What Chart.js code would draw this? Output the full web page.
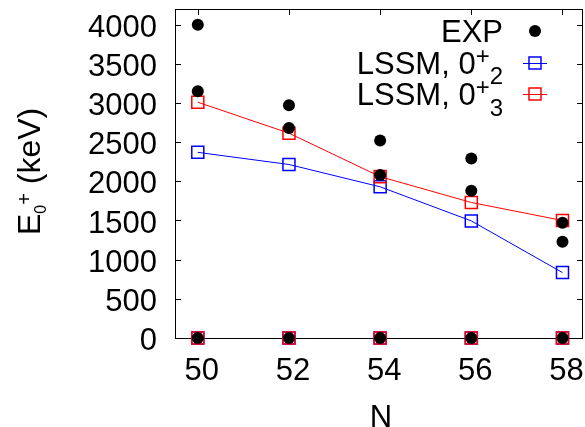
<!DOCTYPE html>
<html>
<head>
<meta charset="utf-8">
<script src="https://cdn.jsdelivr.net/npm/chart.js@4/dist/chart.umd.min.js"></script>
<style>
  html, body { margin: 0; padding: 0; background: #fff; }
  canvas { display: block; }
</style>
</head>
<body>
<canvas id="chart" width="585" height="427"></canvas>
<script>
// neutron number
const N = [50, 52, 54, 56, 58];
// experiment: ground states and two excited 0+ levels per nucleus
const expGround = [0, 0, 0, 0, 0];
const expLow = [3150, 2680, 2080, 1880, 1230];
const expHigh = [4000, 2970, 2520, 2290, 1470];
// shell model
const lssm02 = [2370, 2215, 1930, 1495, 835];
const lssm03 = [3010, 2615, 2060, 1730, 1500];
const lssmGround = [0, 0, 0, 0, 0];

const xTicks = [50, 52, 54, 56, 58];
const yTicks = [0, 500, 1000, 1500, 2000, 2500, 3000, 3500, 4000];

const FONT = '"Liberation Sans", Arial, sans-serif';
const FS = 31;

const pts = (ys) => N.map((n, i) => ({ x: n, y: ys[i] }));
const expPoints = [].concat(pts(expGround), pts(expLow), pts(expHigh));

// text pieces [text, size, dy] drawn one after another
function richWidth(ctx, parts) {
  let w = 0;
  for (const p of parts) {
    ctx.font = p[1] + 'px ' + FONT;
    w += ctx.measureText(p[0]).width;
  }
  return w;
}
function richText(ctx, parts, x, y) {
  for (const p of parts) {
    ctx.font = p[1] + 'px ' + FONT;
    ctx.fillText(p[0], x, y + (p[2] || 0));
    x += ctx.measureText(p[0]).width;
  }
}

// box round the plot with inward ticks on all four sides, as 1px filled bars
function drawFrame(chart) {
  const ctx = chart.ctx;
  const a = chart.chartArea;
  const xs = chart.scales.x, ys = chart.scales.y;
  const L = Math.round(a.left), R = Math.round(a.right) - 1;
  const T = Math.round(a.top), B = Math.round(a.bottom);
  const tl = 6;
  ctx.save();
  ctx.globalAlpha = 1;
  ctx.fillStyle = '#000';
  ctx.fillRect(L, T, R - L + 1, 1);
  ctx.fillRect(L, B, R - L + 1, 1);
  ctx.fillRect(L, T, 1, B - T + 1);
  ctx.fillRect(R, T, 1, B - T + 1);
  for (const v of xTicks) {
    const px = Math.round(xs.getPixelForValue(v));
    ctx.fillRect(px, B - tl, 1, tl);
    ctx.fillRect(px, T, 1, tl);
  }
  for (const v of yTicks) {
    const py = Math.round(ys.getPixelForValue(v));
    ctx.fillRect(L, py, tl, 1);
    ctx.fillRect(R - tl + 1, py, tl, 1);
  }
  ctx.restore();
}

const decor = {
  id: 'decor',
  beforeDatasetsDraw(chart) {
    drawFrame(chart);
  },
  afterDraw(chart) {
    const ctx = chart.ctx;
    const xs = chart.scales.x, ys = chart.scales.y;
    const a = chart.chartArea;
    ctx.save();
    ctx.fillStyle = '#000';
    ctx.textBaseline = 'alphabetic';
    ctx.font = FS + 'px ' + FONT;

    // y tick labels
    ctx.textAlign = 'right';
    for (const v of yTicks) {
      ctx.fillText(String(v), a.left - 18, ys.getPixelForValue(v) + 12);
    }
    // x tick labels
    ctx.textAlign = 'center';
    for (const v of xTicks) {
      ctx.fillText(String(v), xs.getPixelForValue(v) + 4, a.bottom + 42);
    }
    // x title
    ctx.fillText('N', 381, 427);
    ctx.textAlign = 'left';

    // y title, rotated
    ctx.save();
    ctx.translate(40, 235);
    ctx.rotate(-Math.PI / 2);
    richText(ctx, [['E', 32, 0], ['0', 16, 6], ['+', 20, -9], [' (keV)', 32, 0]], 0, 0);
    ctx.restore();

    // legend
    const rows = [
      { parts: [['EXP', FS, 0]], y: 42, sym: 'dot' },
      { parts: [['LSSM, 0', FS, 0], ['+', 24, -10], ['2', 24, 10]], y: 74, sym: 'blue' },
      { parts: [['LSSM, 0', FS, 0], ['+', 24, -10], ['3', 24, 11]], y: 105, sym: 'red' }
    ];
    const textRight = 503, symX = 535;
    for (const r of rows) {
      const w = richWidth(ctx, r.parts);
      richText(ctx, r.parts, textRight - w, r.y);
      const cy = r.y - 11;
      if (r.sym === 'dot') {
        ctx.beginPath();
        ctx.arc(symX, cy, 6, 0, Math.PI * 2);
        ctx.fill();
      } else {
        const c = r.sym === 'blue' ? '#0000ff' : '#ff0000';
        ctx.strokeStyle = c;
        ctx.lineWidth = 1;
        ctx.beginPath();
        ctx.moveTo(symX - 12, cy + 0.5); ctx.lineTo(symX + 12, cy + 0.5);
        ctx.stroke();
        ctx.lineWidth = 1.5;
        ctx.strokeRect(symX - 6, cy - 6, 12, 12);
      }
    }
    ctx.restore();
  }
};

const squares = (color) => ({
  pointStyle: 'rect',
  pointRadius: 8.5,
  pointBackgroundColor: 'rgba(0,0,0,0)',
  pointBorderColor: color,
  pointBorderWidth: 1.5,
  borderColor: color,
  borderWidth: 1,
  clip: false
});

new Chart(document.getElementById('chart'), {
  type: 'scatter',
  data: {
    datasets: [
      {
        label: 'EXP',
        data: expPoints,
        pointStyle: 'circle',
        pointRadius: 6,
        pointBackgroundColor: '#000',
        pointBorderColor: '#000',
        pointBorderWidth: 0,
        showLine: false,
        clip: false
      },
      Object.assign({ label: 'LSSM 0+3 g.s.', data: pts(lssmGround), showLine: false }, squares('#ff0000')),
      Object.assign({ label: 'LSSM, 0+3', data: pts(lssm03), showLine: true }, squares('#ff0000')),
      Object.assign({ label: 'LSSM 0+2 g.s.', data: pts(lssmGround), showLine: false }, squares('#0000ff')),
      Object.assign({ label: 'LSSM, 0+2', data: pts(lssm02), showLine: true }, squares('#0000ff'))
    ]
  },
  options: {
    responsive: false,
    animation: false,
    layout: { autoPadding: false, padding: { top: 9, right: 2, left: 0, bottom: 0 } },
    plugins: { legend: { display: false }, tooltip: { enabled: false } },
    scales: {
      x: {
        type: 'linear',
        min: 49.5,
        max: 58.45,
        grid: { display: false },
        border: { display: false },
        afterBuildTicks: (s) => { s.ticks = xTicks.map(v => ({ value: v })); },
        afterFit: (s) => { s.height = 89; s.paddingLeft = 0; s.paddingRight = 0; },
        ticks: { display: false }
      },
      y: {
        min: 0,
        max: 4200,
        grid: { display: false },
        border: { display: false },
        afterBuildTicks: (s) => { s.ticks = yTicks.map(v => ({ value: v })); },
        afterFit: (s) => { s.width = 175; s.paddingTop = 0; s.paddingBottom = 0; },
        ticks: { display: false }
      }
    }
  },
  plugins: [decor]
});
</script>
</body>
</html>
